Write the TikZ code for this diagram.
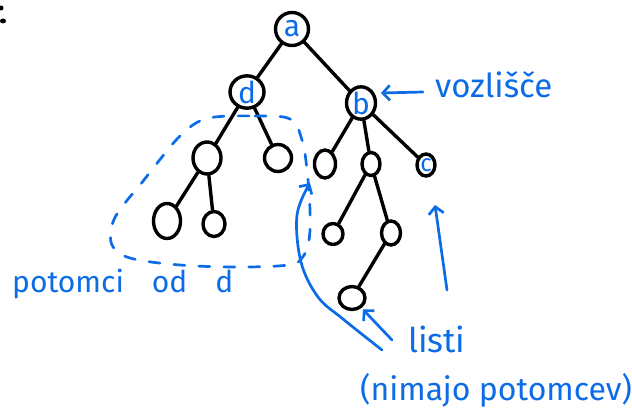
\documentclass[tikz,border=0pt]{standalone}
\usepackage{fontspec}
\setmainfont{Fira Sans}
\usetikzlibrary{shapes.geometric,arrows.meta}
\definecolor{ink}{RGB}{12,108,232}
\begin{document}
\begin{tikzpicture}[x=1pt,y=-1pt,
  tn/.style={ellipse, draw=black, line width=3.4pt, inner sep=0pt, text=ink,
    font=\fontsize{30}{30}\selectfont},
  edge/.style={line width=3.4pt, black, line cap=round},
  ann/.style={draw=ink, line width=2.7pt, line cap=round, line join=round},
  arr/.style={ann, -{Straight Barb[length=7pt,width=15pt]}},
  lab/.style={text=ink, inner sep=0pt, anchor=base west},
  loop/.style={ann, dash pattern=on 11pt off 14pt},
]
\useasboundingbox (0,0) rectangle (632,420);
% stray marks at the left edge
\fill (1,8) circle (2.5);
\fill (3,21) ellipse (3 and 2.5);

% tree nodes
\node[tn, minimum width=33pt, minimum height=33pt] (a) at (292,29) {a};
\node[tn, minimum width=34pt, minimum height=30pt] (d) at (247,92) {d};
\node[tn, minimum width=29pt, minimum height=27pt] (b) at (361,103) {b};
\node[tn, minimum width=28pt, minimum height=32pt] (dl) at (207,158) {};
\node[tn, minimum width=27pt, minimum height=27pt] (dr) at (278,158) {};
\node[tn, minimum width=27pt, minimum height=35pt] (dll) at (167,221) {};
\node[tn, minimum width=22pt, minimum height=25pt] (dlr) at (214,224) {};
\node[tn, minimum width=21pt, minimum height=28pt] (bl) at (325,164) {};
\node[tn, minimum width=18pt, minimum height=23pt] (bm) at (371,164) {};
\node[tn, minimum width=18pt, minimum height=22pt, font=\fontsize{24}{24}\selectfont] (c) at (426,165) {c};
\node[tn, minimum width=20pt, minimum height=21pt] (bml) at (333,234) {};
\node[tn, minimum width=19pt, minimum height=24pt] (bmr) at (391,233) {};
\node[tn, minimum width=26pt, minimum height=23pt] (deep) at (352,298) {};

% edges
\draw[edge] (a) -- (d);
\draw[edge] (a) -- (b);
\draw[edge] (d) -- (dl);
\draw[edge] (d) -- (dr);
\draw[edge] (dl) -- (dll);
\draw[edge] (dl) -- (dlr);
\draw[edge] (b) -- (bl);
\draw[edge] (b) -- (bm);
\draw[edge] (b) -- (c);
\draw[edge] (bm) -- (bml);
\draw[edge] (bm) -- (bmr);
\draw[edge] (bmr) -- (deep);

% dashed loop around descendants of d
\draw[loop] plot[smooth cycle, tension=0.6] coordinates {
  (215,117) (255,116) (290,119) (302,140) (307,170) (310,210) (309,240)
  (302,258) (288,265) (240,267) (180,265) (130,258) (112,245) (113,222)
  (125,203) (140,185) (158,162) (178,138) (196,123)};

% labels
\node[lab, font=\fontsize{33}{33}\selectfont] (vz) at (435,98) {vozlišče};
\node[lab, font=\fontsize{34}{34}\selectfont] (listi) at (408,352) {listi};
\node[lab, font=\fontsize{32}{32}\selectfont] (nim) at (360,400) {(nimajo potomcev)};
\node[lab, font=\fontsize{30}{30}\selectfont] (pot) at (12,292) {potomci\hspace{28pt}od\hspace{28pt}d};

% arrows
\coordinate (vzs) at (423,92);
\coordinate (vzt) at (381,93);
\draw[arr] (vzs) -- (vzt);

\coordinate (ls) at (392,340);
\draw[arr, shorten >=2pt] (ls) -- (deep);

\coordinate (cs) at (447,290);
\coordinate (ct) at (435,205);
\draw[arr] (cs) -- (ct);

\coordinate (bs) at (382,350);
\coordinate (bt) at (310,183);
\draw[arr] plot[smooth, tension=0.6] coordinates {(bs) (343,319) (318,297) (301,262) (297,215) (bt)};
\end{tikzpicture}
\end{document}
